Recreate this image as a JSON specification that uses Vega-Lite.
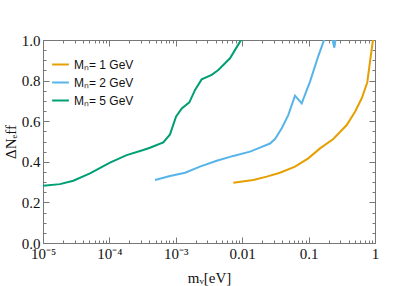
{
  "$schema": "https://vega.github.io/schema/vega-lite/v6.json",
  "width": 332,
  "height": 203,
  "autosize": "none",
  "padding": {"left": 43, "top": 40, "right": 20, "bottom": 43},
  "background": "white",
  "config": {
    "view": {"stroke": "#777777", "strokeWidth": 1},
    "axis": {
      "domainColor": "#777777",
      "tickColor": "#777777",
      "grid": false,
      "labelFont": "Liberation Serif",
      "labelFontSize": 15,
      "labelColor": "#111111",
      "titleFont": "Liberation Serif",
      "titleFontSize": 15,
      "titleFontWeight": "normal",
      "titleColor": "#111111"
    }
  },
  "data": {
    "values": [
      {"m": 0.00001, "dn": 0.282, "s": "Mₙ= 5 GeV"},
      {"m": 0.000018, "dn": 0.29, "s": "Mₙ= 5 GeV"},
      {"m": 0.0000286, "dn": 0.307, "s": "Mₙ= 5 GeV"},
      {"m": 0.000051, "dn": 0.343, "s": "Mₙ= 5 GeV"},
      {"m": 0.000102, "dn": 0.396, "s": "Mₙ= 5 GeV"},
      {"m": 0.000182, "dn": 0.433, "s": "Mₙ= 5 GeV"},
      {"m": 0.000324, "dn": 0.458, "s": "Mₙ= 5 GeV"},
      {"m": 0.000408, "dn": 0.469, "s": "Mₙ= 5 GeV"},
      {"m": 0.000648, "dn": 0.496, "s": "Mₙ= 5 GeV"},
      {"m": 0.000818, "dn": 0.535, "s": "Mₙ= 5 GeV"},
      {"m": 0.001007, "dn": 0.622, "s": "Mₙ= 5 GeV"},
      {"m": 0.00123, "dn": 0.663, "s": "Mₙ= 5 GeV"},
      {"m": 0.0016, "dn": 0.693, "s": "Mₙ= 5 GeV"},
      {"m": 0.00195, "dn": 0.754, "s": "Mₙ= 5 GeV"},
      {"m": 0.00245, "dn": 0.806, "s": "Mₙ= 5 GeV"},
      {"m": 0.00347, "dn": 0.828, "s": "Mₙ= 5 GeV"},
      {"m": 0.00437, "dn": 0.852, "s": "Mₙ= 5 GeV"},
      {"m": 0.00655, "dn": 0.91, "s": "Mₙ= 5 GeV"},
      {"m": 0.00927, "dn": 0.992, "s": "Mₙ= 5 GeV"},
      {"m": 0.0099, "dn": 1.005, "s": "Mₙ= 5 GeV"},
      {"m": 0.000486, "dn": 0.31, "s": "Mₙ= 2 GeV"},
      {"m": 0.000818, "dn": 0.33, "s": "Mₙ= 2 GeV"},
      {"m": 0.00138, "dn": 0.346, "s": "Mₙ= 2 GeV"},
      {"m": 0.00231, "dn": 0.376, "s": "Mₙ= 2 GeV"},
      {"m": 0.00413, "dn": 0.405, "s": "Mₙ= 2 GeV"},
      {"m": 0.00735, "dn": 0.429, "s": "Mₙ= 2 GeV"},
      {"m": 0.0131, "dn": 0.45, "s": "Mₙ= 2 GeV"},
      {"m": 0.0185, "dn": 0.47, "s": "Mₙ= 2 GeV"},
      {"m": 0.0262, "dn": 0.49, "s": "Mₙ= 2 GeV"},
      {"m": 0.0312, "dn": 0.512, "s": "Mₙ= 2 GeV"},
      {"m": 0.0394, "dn": 0.565, "s": "Mₙ= 2 GeV"},
      {"m": 0.0494, "dn": 0.63, "s": "Mₙ= 2 GeV"},
      {"m": 0.0624, "dn": 0.726, "s": "Mₙ= 2 GeV"},
      {"m": 0.0787, "dn": 0.688, "s": "Mₙ= 2 GeV"},
      {"m": 0.105, "dn": 0.795, "s": "Mₙ= 2 GeV"},
      {"m": 0.14, "dn": 0.921, "s": "Mₙ= 2 GeV"},
      {"m": 0.171, "dn": 1.0, "s": "Mₙ= 2 GeV"},
      {"m": 0.196, "dn": 1.1, "s": "Mₙ= 2 GeV"},
      {"m": 0.244, "dn": 0.962, "s": "Mₙ= 2 GeV"},
      {"m": 0.277, "dn": 1.08, "s": "Mₙ= 2 GeV"},
      {"m": 0.00735, "dn": 0.297, "s": "Mₙ= 1 GeV"},
      {"m": 0.0147, "dn": 0.31, "s": "Mₙ= 1 GeV"},
      {"m": 0.0234, "dn": 0.327, "s": "Mₙ= 1 GeV"},
      {"m": 0.0371, "dn": 0.346, "s": "Mₙ= 1 GeV"},
      {"m": 0.0624, "dn": 0.376, "s": "Mₙ= 1 GeV"},
      {"m": 0.0989, "dn": 0.417, "s": "Mₙ= 1 GeV"},
      {"m": 0.1486, "dn": 0.466, "s": "Mₙ= 1 GeV"},
      {"m": 0.2355, "dn": 0.512, "s": "Mₙ= 1 GeV"},
      {"m": 0.375, "dn": 0.581, "s": "Mₙ= 1 GeV"},
      {"m": 0.5, "dn": 0.647, "s": "Mₙ= 1 GeV"},
      {"m": 0.631, "dn": 0.713, "s": "Mₙ= 1 GeV"},
      {"m": 0.766, "dn": 0.792, "s": "Mₙ= 1 GeV"},
      {"m": 0.841, "dn": 0.893, "s": "Mₙ= 1 GeV"},
      {"m": 0.923, "dn": 0.99, "s": "Mₙ= 1 GeV"},
      {"m": 0.966, "dn": 1.03, "s": "Mₙ= 1 GeV"}
    ]
  },
  "resolve": {"axis": {"x": "independent", "y": "independent"}},
  "layer": [
    {
      "mark": {"type": "line", "strokeWidth": 2, "clip": true},
      "encoding": {
        "x": {
          "field": "m", "type": "quantitative",
          "scale": {"type": "log", "domain": [0.00001, 1], "nice": false},
          "axis": {
            "orient": "bottom",
            "title": "mᵥ[eV]",
            "values": [0.00001,0.00002,0.00003,0.00004,0.00005,0.00006,0.00007,0.00008,0.00009,0.0001,0.0002,0.0003,0.0004,0.0005,0.0006,0.0007,0.0008,0.0009,0.001,0.002,0.003,0.004,0.005,0.006,0.007,0.008,0.009,0.01,0.02,0.03,0.04,0.05,0.06,0.07,0.08,0.09,0.1,0.2,0.3,0.4,0.5,0.6,0.7,0.8,0.9,1],
            "labelExpr": "abs(log(datum.value)/LN10 - round(log(datum.value)/LN10)) > 0.01 ? '' : (datum.value < 0.00005 ? '10⁻⁵' : datum.value < 0.0005 ? '10⁻⁴' : datum.value < 0.005 ? '10⁻³' : datum.value < 0.05 ? '0.01' : datum.value < 0.5 ? '0.1' : '1')",
            "labelOverlap": false,
            "labelFlush": false,
            "labelPadding": 9,
            "tickSize": {"condition": {"test": "abs(log(datum.value)/LN10 - round(log(datum.value)/LN10)) < 0.01", "value": -6}, "value": -3},
            "titlePadding": 6
          }
        },
        "y": {
          "field": "dn", "type": "quantitative",
          "scale": {"domain": [0, 1], "nice": false},
          "axis": {
            "orient": "left",
            "title": "ΔNₑff",
            "values": [0,0.05,0.1,0.15,0.2,0.25,0.3,0.35,0.4,0.45,0.5,0.55,0.6,0.65,0.7,0.75,0.8,0.85,0.9,0.95,1],
            "labelExpr": "abs(datum.value*5 - round(datum.value*5)) < 0.01 ? format(datum.value, '.1f') : ''",
            "labelOverlap": false,
            "labelFlush": false,
            "labelPadding": 9,
            "tickSize": {"condition": {"test": "abs(datum.value*5 - round(datum.value*5)) < 0.01", "value": -6}, "value": -3},
            "titlePadding": 3
          }
        },
        "color": {
          "field": "s", "type": "nominal",
          "scale": {"domain": ["Mₙ= 1 GeV", "Mₙ= 2 GeV", "Mₙ= 5 GeV"], "range": ["#E69F00", "#56B4E9", "#009E73"]},
          "legend": {
            "title": null,
            "orient": "none",
            "legendX": 8,
            "legendY": 15,
            "symbolType": "stroke",
            "symbolStrokeWidth": 2,
            "symbolSize": 280,
            "labelFont": "Liberation Sans",
            "labelFontSize": 12,
            "labelColor": "#111111",
            "rowPadding": 2,
            "labelOffset": 4
          }
        }
      }
    },
    {
      "mark": {"type": "point", "opacity": 0},
      "encoding": {
        "x": {
          "field": "m", "type": "quantitative",
          "scale": {"type": "log", "domain": [0.00001, 1], "nice": false},
          "axis": {
            "orient": "top", "title": null, "labels": false, "domain": false,
            "values": [0.00001,0.00002,0.00003,0.00004,0.00005,0.00006,0.00007,0.00008,0.00009,0.0001,0.0002,0.0003,0.0004,0.0005,0.0006,0.0007,0.0008,0.0009,0.001,0.002,0.003,0.004,0.005,0.006,0.007,0.008,0.009,0.01,0.02,0.03,0.04,0.05,0.06,0.07,0.08,0.09,0.1,0.2,0.3,0.4,0.5,0.6,0.7,0.8,0.9,1],
            "tickSize": {"condition": {"test": "abs(log(datum.value)/LN10 - round(log(datum.value)/LN10)) < 0.01", "value": -6}, "value": -3}
          }
        },
        "y": {
          "field": "dn", "type": "quantitative",
          "scale": {"domain": [0, 1], "nice": false},
          "axis": {
            "orient": "right", "title": null, "labels": false, "domain": false,
            "values": [0,0.05,0.1,0.15,0.2,0.25,0.3,0.35,0.4,0.45,0.5,0.55,0.6,0.65,0.7,0.75,0.8,0.85,0.9,0.95,1],
            "tickSize": {"condition": {"test": "abs(datum.value*5 - round(datum.value*5)) < 0.01", "value": -6}, "value": -3}
          }
        }
      }
    }
  ]
}
